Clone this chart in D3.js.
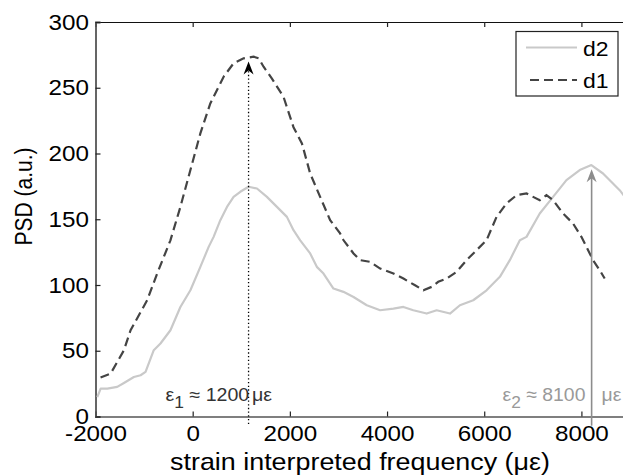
<!DOCTYPE html>
<html>
<head>
<meta charset="utf-8">
<script src="https://cdn.jsdelivr.net/npm/d3@7"></script>
<style>
  body { margin: 0; background: #fff; }
  svg { display: block; font-family: Arial, "Liberation Sans", sans-serif; }
</style>
</head>
<body>
<script>
// values
const d1X = [-1896, -1689, -1415, -1278, -937, -731, -458, -253, -47, 158, 363, 637, 842, 1048, 1253, 1358, 1459, 1631, 1870, 2075, 2248, 2418, 2623, 2829, 3034, 3105, 3310, 3447, 3653, 3858, 4131, 4337, 4576, 4748, 4918, 5054, 5227, 5432, 5637, 5843, 6048, 6254, 6459, 6665, 6870, 7006, 7143, 7280, 7417, 7623, 7828, 8000, 8103, 8240, 8376, 8479]
const d1Y = [29.6, 32.6, 50.4, 65.6, 88.4, 108.7, 134, 159.4, 187.4, 215.3, 238.1, 258.4, 268.6, 272.4, 273.6, 272.4, 266, 257, 243, 220, 207.7, 184.8, 167, 149.3, 139.2, 134, 124, 118.9, 117.6, 112.5, 108.7, 104.9, 99.8, 96, 98.6, 102.4, 104.9, 110, 118.9, 126.5, 134.1, 151.8, 162, 168.3, 169.6, 167, 164.5, 168.3, 164.5, 154.4, 146.8, 136.6, 129, 118.9, 111.3, 104.9]
const d2X = [-1963, -1894, -1757, -1553, -1415, -1210, -1072, -970, -801, -663, -458, -253, -47, 158, 329, 431, 569, 706, 842, 980, 1150, 1323, 1528, 1734, 1939, 2075, 2213, 2418, 2555, 2692, 2897, 3103, 3310, 3583, 3858, 4131, 4337, 4540, 4816, 5021, 5295, 5500, 5774, 6048, 6322, 6527, 6733, 6870, 7143, 7417, 7692, 7965, 8205, 8445, 8788, 9000]
const d2Y = [14.8, 21.2, 21.2, 22.5, 25.5, 30, 31.4, 33.9, 50.4, 55.5, 65.6, 83.3, 96, 113.8, 129, 136.6, 149.3, 159.4, 167, 170.9, 174.7, 173.4, 167, 159.4, 151.8, 141.7, 134, 124, 113.8, 108.7, 97.3, 94.8, 90.9, 84.6, 80.8, 82.1, 83.3, 80.8, 78.3, 80.8, 78.3, 84.6, 88.4, 96, 106.2, 118.9, 134.1, 136.6, 154.4, 167, 179.8, 187.4, 191.2, 184.8, 172.1, 162]
const xTicks = [-2000, 0, 2000, 4000, 6000, 8000]
const yTicks = [0, 50, 100, 150, 200, 250, 300]
const peak1 = 1150, peak1Top = 270
const peak2 = 8210, peak2Top = 188

const w = 623, h = 476
const m = {left: 95.5, top: 22, right: 630, bottom: 416.5}

const svg = d3.select("body").append("svg").attr("width", w).attr("height", h)
svg.append("rect").attr("width", w).attr("height", h).attr("fill", "#fff")

const x = d3.scaleLinear().domain([-2000, 9000]).range([m.left, m.right])
const y = d3.scaleLinear().domain([0, 300]).range([m.bottom, m.top])

const stretch = "scale(1.1,1)"

// axes, matlab style with inward ticks
const gx = svg.append("g").attr("transform", "translate(0," + m.bottom + ")")
  .call(d3.axisBottom(x).tickValues(xTicks).tickSize(-5).tickPadding(9).tickFormat(d => String(d)))
const gxt = svg.append("g").attr("transform", "translate(0," + m.top + ")")
  .call(d3.axisTop(x).tickValues(xTicks).tickSize(-5).tickFormat(""))
const gy = svg.append("g").attr("transform", "translate(" + m.left + ",0)")
  .call(d3.axisLeft(y).tickValues(yTicks).tickSize(-5).tickPadding(6))
const gyr = svg.append("g").attr("transform", "translate(" + m.right + ",0)")
  .call(d3.axisRight(y).tickValues(yTicks).tickSize(-5).tickFormat(""))

;[gx, gxt, gy, gyr].forEach(g => {
  g.select(".domain").attr("stroke", "#333").attr("stroke-width", 1.4)
  g.selectAll(".tick line").attr("stroke", "#222").attr("stroke-width", 1.2)
  g.selectAll(".tick text").attr("fill", "#000").attr("font-size", 22)
    .attr("font-family", "Arial, 'Liberation Sans', sans-serif").attr("transform", stretch)
})
gy.select(".domain").attr("stroke", "#555").attr("stroke-width", 1.8)
gx.select(".domain").attr("stroke", "#555").attr("stroke-width", 1.6)
gxt.select(".domain").attr("stroke", "#111").attr("stroke-width", 1.2)
gx.selectAll(".tick text").attr("dy", "0.71em")

svg.append("text").attr("transform", "translate(360,470) scale(1.12,1)")
  .attr("text-anchor", "middle").attr("font-size", 24).text("strain interpreted frequency (\u03bc\u03b5)")
svg.append("text").attr("transform", "translate(31.5,196.5) scale(1.1,1) rotate(-90)")
  .attr("text-anchor", "middle").attr("font-size", 21).text("PSD (a.u.)")

// curves
const line = d3.line().x(d => x(d[0])).y(d => y(d[1]))
svg.append("clipPath").attr("id", "plot").append("rect")
  .attr("x", m.left).attr("y", m.top).attr("width", m.right - m.left).attr("height", m.bottom - m.top)

svg.append("path").datum(d2X.map((v, i) => [v, d2Y[i]])).attr("d", line)
  .attr("clip-path", "url(#plot)")
  .attr("fill", "none").attr("stroke", "#c9c9c9").attr("stroke-width", 2.2).attr("stroke-linejoin", "round")
svg.append("path").datum(d1X.map((v, i) => [v, d1Y[i]])).attr("d", line)
  .attr("fill", "none").attr("stroke", "#444").attr("stroke-width", 2.2).attr("stroke-dasharray", "9,5")

// peak arrows
function arrow(xv, top, color, dash) {
  const px = x(xv), py = y(top)
  svg.append("line").attr("x1", px).attr("x2", px).attr("y1", py + 6).attr("y2", y(-7))
    .attr("stroke", color).attr("stroke-width", dash ? 1.3 : 1.6).attr("stroke-dasharray", dash || null)
  svg.append("path")
    .attr("d", "M" + px + "," + py + " L" + (px + 5) + "," + (py + 13) + " L" + px + "," + (py + 9) + " L" + (px - 5) + "," + (py + 13) + "Z")
    .attr("fill", color)
}
arrow(peak1, peak1Top, "#000", "1.3,2.4")
arrow(peak2, peak2Top, "#8c8c8c", null)

// annotation texts
function note(xv, color, idx, val, start, muOff, size, sx) {
  const px = x(xv)
  const t = svg.append("text").attr("transform", "translate(" + (px + start) + ",400.5) scale(" + sx + ",1)")
    .attr("fill", color).attr("font-size", size)
  t.append("tspan").text("\u03b5")
  t.append("tspan").attr("dy", 7).attr("font-size", size - 2).text(idx)
  t.append("tspan").attr("dy", -7).text(" \u2248 " + val)
  t.append("tspan").attr("x", (muOff - start) / sx).text("\u03bc\u03b5")
}
note(peak1, "#333", "1", "1200", -83, 3.5, 18, 1.09)
note(peak2, "#999", "2", "8100", -89, 10, 19, 1.02)

// legend
const lg = svg.append("g").attr("transform", "translate(516,31.5)")
lg.append("rect").attr("width", 102).attr("height", 64.5).attr("fill", "#fff").attr("stroke", "#222").attr("stroke-width", 1.2)
lg.append("line").attr("x1", 10).attr("x2", 61).attr("y1", 16).attr("y2", 16).attr("stroke", "#c9c9c9").attr("stroke-width", 2.2)
lg.append("line").attr("x1", 14).attr("x2", 61).attr("y1", 48.5).attr("y2", 48.5).attr("stroke", "#444").attr("stroke-width", 2.2).attr("stroke-dasharray", "9,5")
lg.append("text").attr("transform", "translate(67,24) scale(1.15,1)").attr("font-size", 20).text("d2")
lg.append("text").attr("transform", "translate(67,56) scale(1.15,1)").attr("font-size", 20).text("d1")
</script>
</body>
</html>
